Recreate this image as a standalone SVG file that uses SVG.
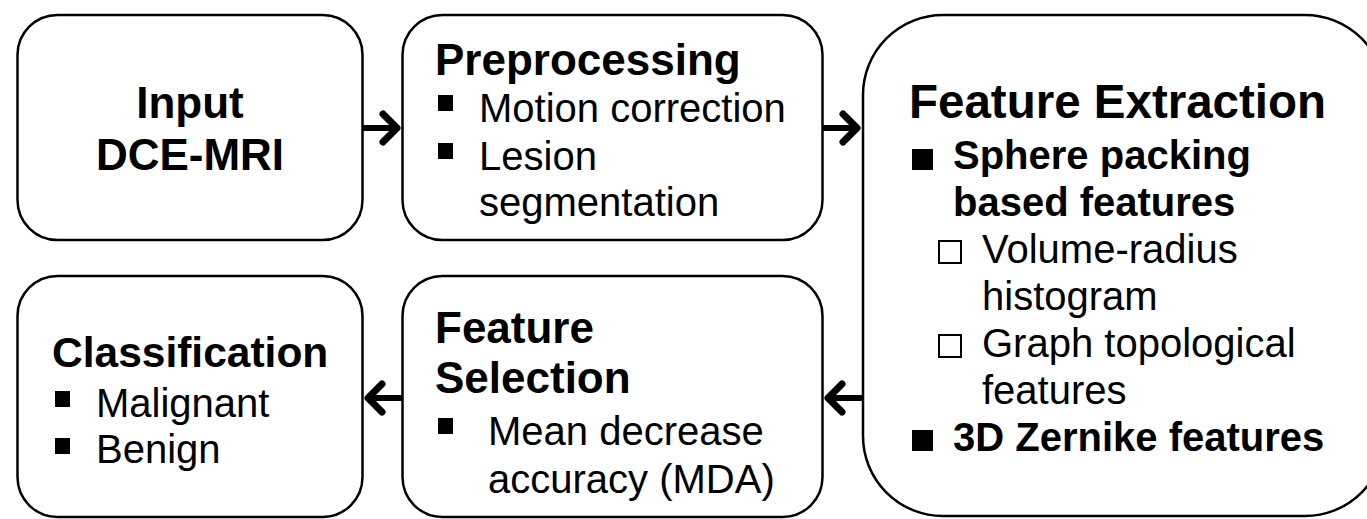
<svg xmlns="http://www.w3.org/2000/svg" width="1367" height="519" viewBox="0 0 1367 519">
<style>
.box{fill:#fff;stroke:#000;stroke-width:2.5}
.t{font-family:"Liberation Sans",Arial,sans-serif;fill:#000}
.h{font-weight:bold;font-size:44px}
.hb{font-weight:bold;font-size:40px}
.r{font-size:40px}
.bul{fill:#000}
.hol{fill:none;stroke:#000;stroke-width:2}
.con{stroke:#000;stroke-width:6;fill:none}
</style>
<defs>
<marker id="chev" markerUnits="userSpaceOnUse" viewBox="-20 -20 25 40" refX="0" refY="0" markerWidth="25" markerHeight="40" orient="auto" overflow="visible">
<path d="M-14,-14 L0,0 L-14,14" fill="none" stroke="#000" stroke-width="7" stroke-linecap="round" stroke-linejoin="round"/>
</marker>
</defs>
<rect width="1367" height="519" fill="#fff"/>
<g id="input">
<rect class="box" x="17.5" y="15" width="345" height="225" rx="40"/>
<text class="t h" x="190" y="118" text-anchor="middle">Input</text>
<text class="t h" x="190" y="170" text-anchor="middle">DCE-MRI</text>
</g>
<g id="preprocessing">
<rect class="box" x="402.5" y="15" width="420" height="225" rx="40"/>
<text class="t h" x="435" y="75">Preprocessing</text>
<rect class="bul" x="438" y="95" width="15" height="16"/>
<text class="t r" x="479" y="122">Motion correction</text>
<rect class="bul" x="438" y="143" width="15" height="16"/>
<text class="t r" x="479" y="170">Lesion</text>
<text class="t r" x="479" y="216">segmentation</text>
</g>
<g id="feature-extraction">
<rect class="box" x="863" y="15" width="522" height="501" rx="80"/>
<text class="t" x="909" y="118" font-weight="bold" font-size="47.5">Feature Extraction</text>
<rect class="bul" x="912" y="149" width="21" height="21"/>
<text class="t hb" x="953" y="169">Sphere packing</text>
<text class="t hb" x="953" y="216">based features</text>
<rect class="hol" x="939" y="241" width="22" height="22"/>
<text class="t r" x="982" y="263">Volume-radius</text>
<text class="t r" x="982" y="310">histogram</text>
<rect class="hol" x="939" y="335" width="22" height="22"/>
<text class="t r" x="982" y="357">Graph topological</text>
<text class="t r" x="982" y="404">features</text>
<rect class="bul" x="912" y="430" width="21" height="21"/>
<text class="t hb" x="953" y="451">3D Zernike features</text>
</g>
<g id="feature-selection">
<rect class="box" x="402.5" y="276" width="420" height="241" rx="40"/>
<text class="t h" x="435" y="343">Feature</text>
<text class="t h" x="435" y="393">Selection</text>
<rect class="bul" x="438" y="418" width="15" height="16"/>
<text class="t r" x="488" y="445">Mean decrease</text>
<text class="t r" x="488" y="493">accuracy (MDA)</text>
</g>
<g id="classification">
<rect class="box" x="17.5" y="276" width="345" height="241" rx="40"/>
<text class="t" x="52" y="367" font-weight="bold" font-size="42.5">Classification</text>
<rect class="bul" x="55" y="391" width="15" height="16"/>
<text class="t r" x="96" y="417">Malignant</text>
<rect class="bul" x="55" y="438" width="15" height="16"/>
<text class="t r" x="96" y="463">Benign</text>
</g>
<g id="connectors">
<line class="con" x1="363" y1="128" x2="397" y2="128" marker-end="url(#chev)"/>
<line class="con" x1="823" y1="128" x2="857" y2="128" marker-end="url(#chev)"/>
<line class="con" x1="862" y1="398" x2="828" y2="398" marker-end="url(#chev)"/>
<line class="con" x1="402" y1="398" x2="368" y2="398" marker-end="url(#chev)"/>
</g>
</svg>
